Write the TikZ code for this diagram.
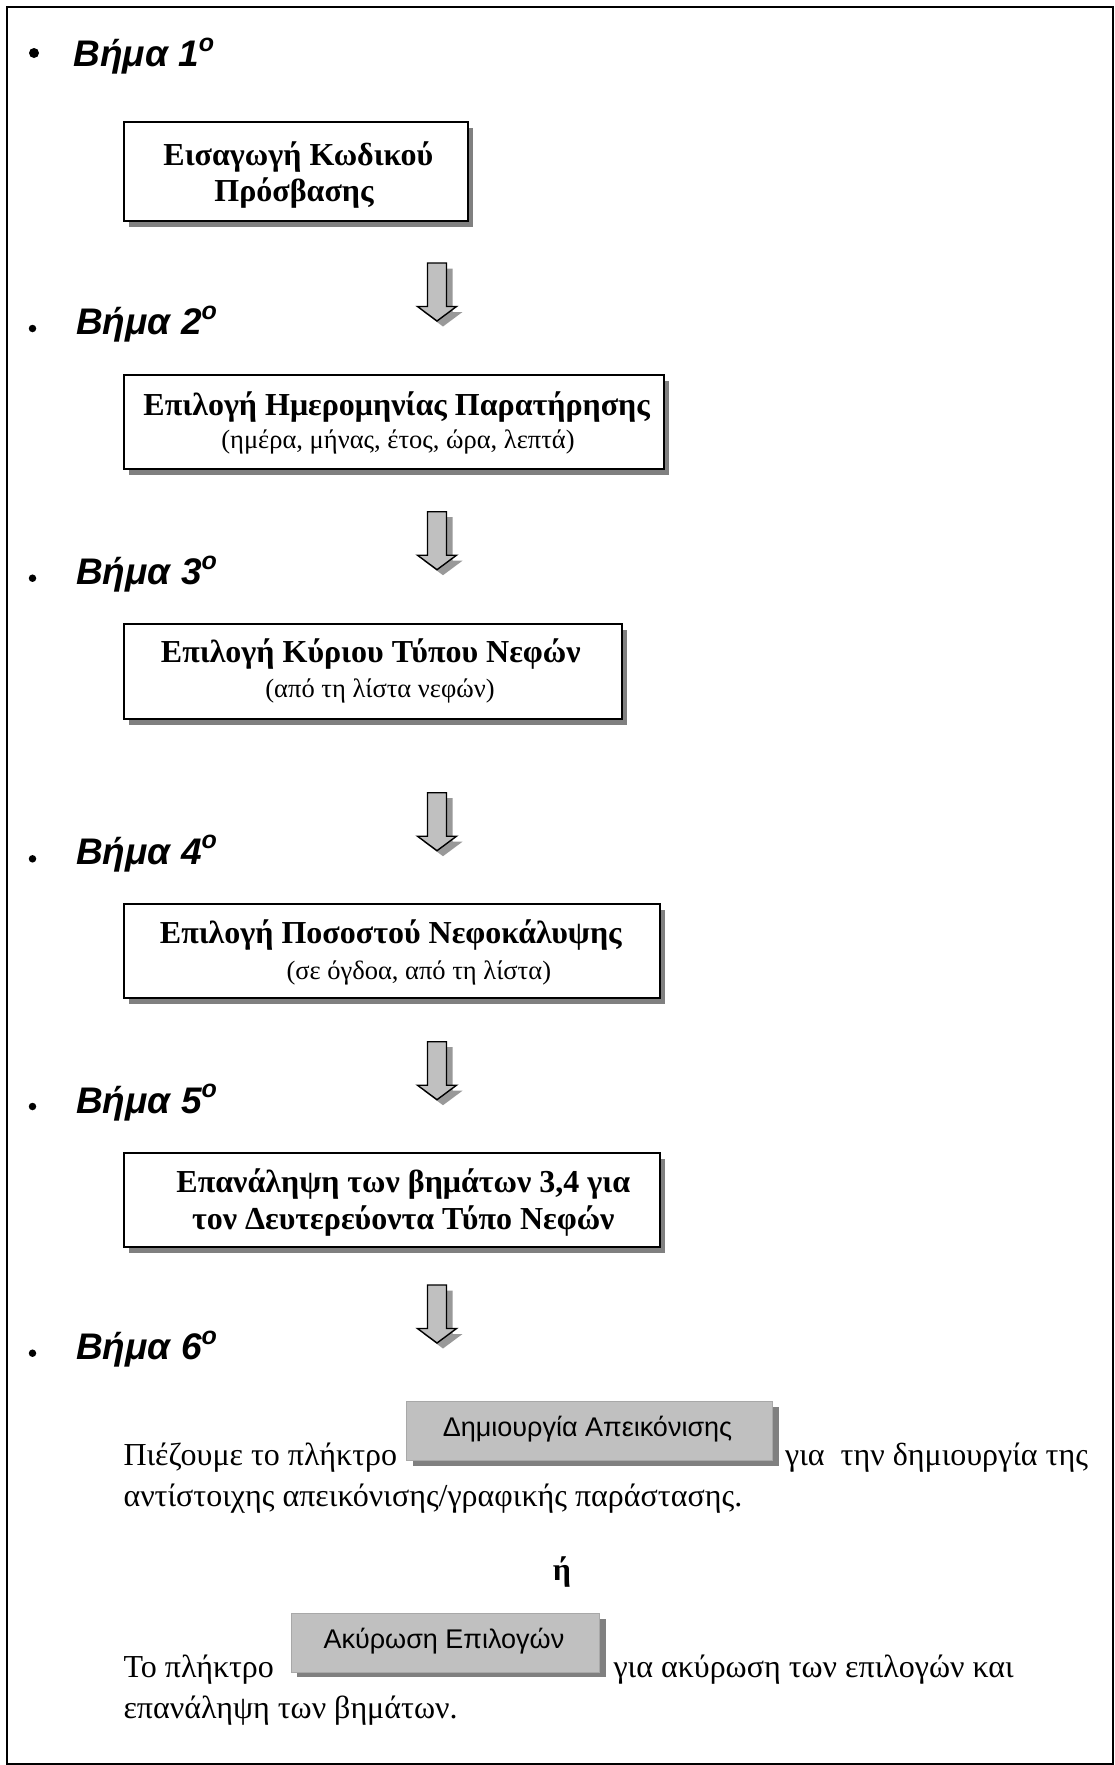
\documentclass[tikz,border=0pt]{standalone}
\usepackage{fontspec}
\setmainfont{Liberation Serif}
\newfontfamily\sansf{Liberation Sans}
\usetikzlibrary{shadows}
\definecolor{arrowfill}{HTML}{C0C0C0}
\definecolor{arrowshadow}{HTML}{999999}
\definecolor{boxshadow}{HTML}{808080}
\definecolor{btnface}{HTML}{C0C0C0}
\definecolor{btnedge}{HTML}{A8A8A8}
\newcommand{\supo}{\raisebox{15.5pt}{\fontsize{25}{25}\selectfont o}}
\begin{document}
\begin{tikzpicture}[x=1pt,y=-1pt,
  flowbox/.style={draw=black, line width=2pt, fill=white, anchor=north west, inner sep=0pt,
    drop shadow={shadow xshift=5pt, shadow yshift=-6pt, fill=boxshadow, opacity=1}},
  btnbox/.style={draw=btnedge, line width=1pt, fill=btnface, anchor=north west, inner sep=0pt,
    drop shadow={shadow xshift=6pt, shadow yshift=-5pt, fill=boxshadow, opacity=1}},
  boxtitle/.style={anchor=base, inner sep=0pt, font=\bfseries\fontsize{32}{38}\selectfont},
  boxsub/.style={anchor=base, inner sep=0pt, font=\fontsize{26.5}{30}\selectfont},
  steplabel/.style={anchor=base west, inner sep=0pt, font=\sansf\bfseries\itshape\fontsize{37}{40}\selectfont},
  bodytext/.style={anchor=base west, inner sep=0pt, font=\fontsize{32}{36}\selectfont},
  btntext/.style={anchor=base, inner sep=0pt, font=\sansf\fontsize{27}{30}\selectfont},
  bigbullet/.style={circle, fill=black, inner sep=0pt, minimum size=10pt},
  smallbullet/.style={circle, fill=black, inner sep=0pt, minimum size=7.5pt},
  pics/downarrow/.style={code={
    \fill[arrowshadow, shift={(6,5.5)}] (-9.5,0) -- (9.5,0) -- (9.5,43.5) -- (19.5,43.5) -- (0,58) -- (-19.5,43.5) -- (-9.5,43.5) -- cycle;
    \filldraw[fill=arrowfill, draw=black, line width=1.4pt, line join=miter] (-9.5,0) -- (9.5,0) -- (9.5,43.5) -- (19.5,43.5) -- (0,58) -- (-19.5,43.5) -- (-9.5,43.5) -- cycle;
  }}
]
\useasboundingbox (0,0) rectangle (1115,1765);
\fill[white] (0,0) rectangle (1115,1765);
\draw[line width=2pt] (6.5,7.3) rectangle (1113,1764);

% step labels
\node[bigbullet] (bul1) at (34,53) {};
\node[steplabel] (s1) at (73.3,66.5) {Βήμα 1\supo};
\node[smallbullet] (bul2) at (32.5,328.5) {};
\node[steplabel] (s2) at (76,334.8) {Βήμα 2\supo};
\node[smallbullet] (bul3) at (32.5,578.2) {};
\node[steplabel] (s3) at (76,584.8) {Βήμα 3\supo};
\node[smallbullet] (bul4) at (32.5,858.8) {};
\node[steplabel] (s4) at (76,864.2) {Βήμα 4\supo};
\node[smallbullet] (bul5) at (32.5,1106.5) {};
\node[steplabel] (s5) at (76,1113.2) {Βήμα 5\supo};
\node[smallbullet] (bul6) at (32.5,1353.2) {};
\node[steplabel] (s6) at (76,1359.8) {Βήμα 6\supo};

% boxes
\node[flowbox, minimum width=343.4pt, minimum height=99pt] (b1) at (123.3,121) {};
\node[boxtitle] (b1a) at (298.3,165) {Εισαγωγή Κωδικού};
\node[boxtitle] (b1b) at (294,201) {Πρόσβασης};

\node[flowbox, minimum width=540.6pt, minimum height=94.8pt] (b2) at (122.7,373.5) {};
\node[boxtitle] (b2a) at (396.7,415) {Επιλογή Ημερομηνίας Παρατήρησης};
\node[boxsub] (b2b) at (398,448) {(ημέρα, μήνας, έτος, ώρα, λεπτά)};

\node[flowbox, minimum width=498pt, minimum height=95.3pt] (b3) at (122.7,623) {};
\node[boxtitle] (b3a) at (370.8,662) {Επιλογή Κύριου Τύπου Νεφών};
\node[boxsub] (b3b) at (380,697) {(από τη λίστα νεφών)};

\node[flowbox, minimum width=536.3pt, minimum height=94.5pt] (b4) at (122.7,902.5) {};
\node[boxtitle] (b4a) at (390.8,943) {Επιλογή Ποσοστού Νεφοκάλυψης};
\node[boxsub] (b4b) at (418.8,979) {(σε όγδοα, από τη λίστα)};

\node[flowbox, minimum width=536.3pt, minimum height=94.5pt] (b5) at (122.7,1151.7) {};
\node[boxtitle] (b5a) at (403.3,1192) {Επανάληψη των βημάτων 3,4 για};
\node[boxtitle] (b5b) at (403.3,1229) {τον Δευτερεύοντα Τύπο Νεφών};

% arrows
\pic at (437,263) {downarrow};
\pic at (437,511.7) {downarrow};
\pic at (437,792.7) {downarrow};
\pic at (437,1041.7) {downarrow};
\pic at (437,1285) {downarrow};

% step 6 text
\node[btnbox, minimum width=366pt, minimum height=59pt] (btn1) at (406,1401) {};
\node[btntext] (btn1t) at (587.5,1436.7) {Δημιουργία Απεικόνισης};
\node[bodytext] (p1a) at (123.3,1465) {Πιέζουμε το πλήκτρο};
\node[bodytext] (p1b) at (785,1465) {για~~την δημιουργία της};
\node[bodytext] (p1c) at (123.3,1506) {αντίστοιχης απεικόνισης/γραφικής παράστασης.};

\node[anchor=base, inner sep=0pt, font=\bfseries\fontsize{32}{36}\selectfont] (or) at (562,1580) {ή};

\node[btnbox, minimum width=308.6pt, minimum height=58.4pt] (btn2) at (290.7,1613.3) {};
\node[btntext] (btn2t) at (443.9,1648.3) {Ακύρωση Επιλογών};
\node[bodytext] (p2a) at (123.3,1677) {Το πλήκτρο};
\node[bodytext] (p2b) at (613.3,1677) {για ακύρωση των επιλογών και};
\node[bodytext] (p2c) at (123.3,1718) {επανάληψη των βημάτων.};
\end{tikzpicture}
\end{document}
